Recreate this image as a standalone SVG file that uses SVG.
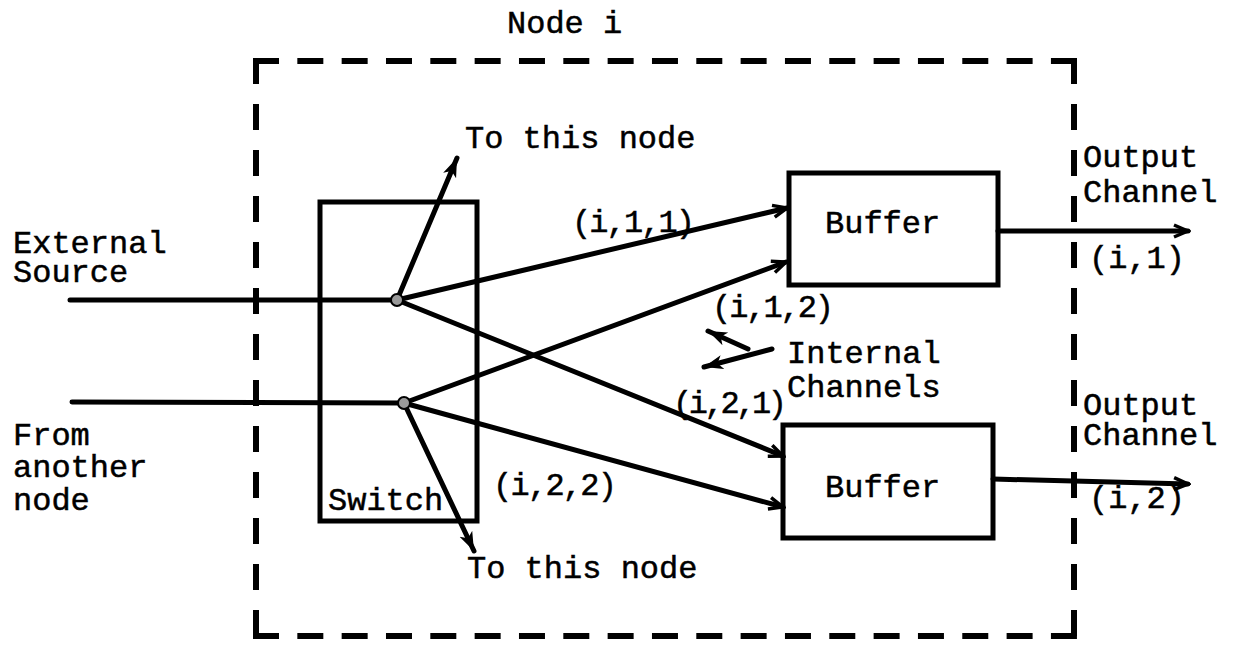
<svg xmlns="http://www.w3.org/2000/svg" width="1233" height="650" viewBox="0 0 1233 650">
<defs>
<marker id="open" markerWidth="20" markerHeight="16" refX="17" refY="8" orient="auto" markerUnits="userSpaceOnUse"><path d="M3,2 L17,8 L3,14" fill="none" stroke="#000" stroke-width="3.5" stroke-linejoin="miter"/></marker>
<marker id="solid" markerWidth="22" markerHeight="16" refX="19" refY="8" orient="auto" markerUnits="userSpaceOnUse"><path d="M0,1 L19,8 L0,15 L5,8 z" fill="#000"/></marker>
</defs>
<style>
.t{font-family:"Liberation Mono","Courier New",monospace;font-size:32px;fill:#000;stroke:#000;stroke-width:0.5}
.ln{stroke:#000;stroke-width:5;fill:none;stroke-linecap:round}
.box{stroke:#000;stroke-width:5;fill:none}
.dh{stroke:#000;stroke-width:6;stroke-dasharray:26 18.33;fill:none}
.dv{stroke:#000;stroke-width:6;stroke-dasharray:26 20;fill:none}
.jn{fill:#999;stroke:#000;stroke-width:2}
</style>
<rect width="1233" height="650" fill="#fff"/>

<g id="node-i-boundary">
<line class="dh" x1="253" y1="61" x2="1077" y2="61"/>
<line class="dv" x1="256" y1="58" x2="256" y2="639"/>
<line class="dv" x1="1074" y1="58" x2="1074" y2="639"/>
<line class="dh" x1="253" y1="636" x2="1077" y2="636"/>
<text class="t" x="507" y="33">Node i</text>
</g>

<g id="switch">
<rect class="box" x="320" y="202" width="157" height="319"/>
<text class="t" x="328" y="510">Switch</text>
</g>

<g id="buffer1">
<rect class="box" x="789" y="173" width="209" height="112"/>
<text class="t" x="825" y="233">Buffer</text>
</g>

<g id="buffer2">
<rect class="box" x="783" y="425" width="210" height="113"/>
<text class="t" x="825" y="497">Buffer</text>
</g>

<g id="connectors">
<line class="ln" x1="70" y1="300" x2="397" y2="300"/>
<line class="ln" x1="72" y1="402" x2="404" y2="403"/>
<line class="ln" x1="397" y1="300" x2="457" y2="158" marker-end="url(#solid)"/>
<line class="ln" x1="397" y1="300" x2="787" y2="208" marker-end="url(#open)"/>
<line class="ln" x1="397" y1="300" x2="783" y2="456" marker-end="url(#open)"/>
<line class="ln" x1="404" y1="403" x2="786" y2="262" marker-end="url(#open)"/>
<line class="ln" x1="404" y1="403" x2="783" y2="507" marker-end="url(#open)"/>
<line class="ln" x1="404" y1="403" x2="474" y2="551" marker-end="url(#solid)"/>
<line class="ln" x1="998" y1="231" x2="1188" y2="231" marker-end="url(#open)"/>
<line class="ln" x1="993" y1="479" x2="1188" y2="484" marker-end="url(#open)"/>
<line class="ln" x1="772" y1="349" x2="704" y2="367" marker-end="url(#solid)"/>
<line class="ln" x1="748" y1="349" x2="708" y2="331" marker-end="url(#solid)"/>
<circle class="jn" cx="397" cy="300" r="6"/>
<circle class="jn" cx="404" cy="403" r="6"/>
</g>

<g id="labels">
<text class="t" x="13" y="253">External</text>
<text class="t" x="13" y="282">Source</text>
<text class="t" x="13" y="445">From</text>
<text class="t" x="13" y="477">another</text>
<text class="t" x="13" y="510">node</text>
<text class="t" x="465" y="148">To this node</text>
<text class="t" x="467" y="578">To this node</text>
<text class="t" x="572" y="232" textLength="123">(i,1,1)</text>
<text class="t" x="712" y="317" textLength="122">(i,1,2)</text>
<text class="t" x="673" y="413" textLength="114">(i,2,1)</text>
<text class="t" x="493" y="495" textLength="124">(i,2,2)</text>
<text class="t" x="787" y="363">Internal</text>
<text class="t" x="787" y="397">Channels</text>
<text class="t" x="1083" y="167">Output</text>
<text class="t" x="1083" y="202">Channel</text>
<text class="t" x="1089" y="268">(i,1)</text>
<text class="t" x="1083" y="415">Output</text>
<text class="t" x="1083" y="445">Channel</text>
<text class="t" x="1089" y="508">(i,2)</text>
</g>
</svg>
